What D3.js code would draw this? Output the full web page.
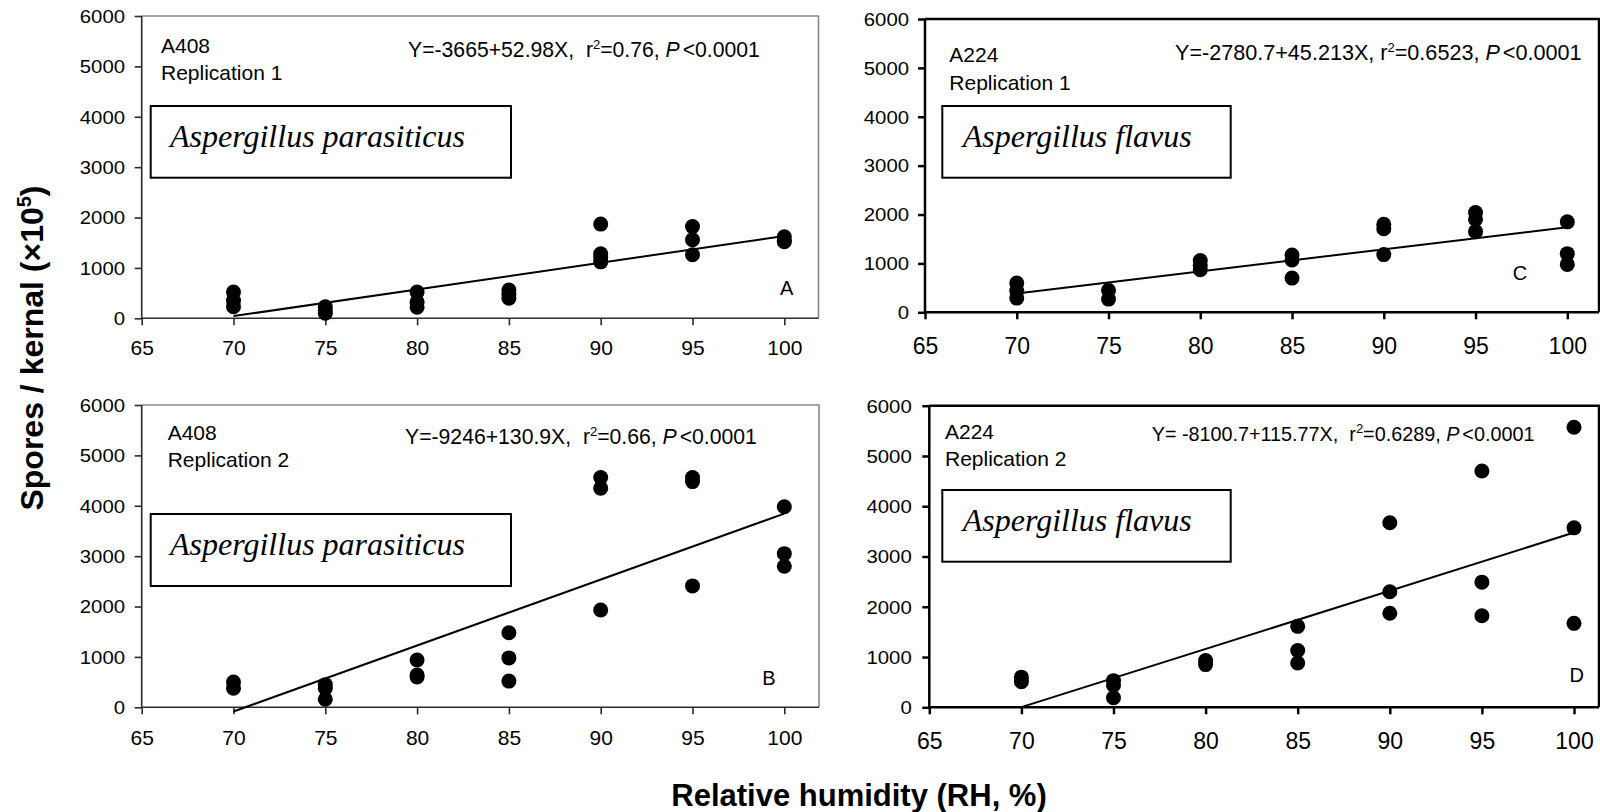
<!doctype html>
<html>
<head>
<meta charset="utf-8">
<title>spores per kernel vs relative humidity</title>
<style>
  body { margin: 0; background: #fff; }
  svg { display: block; font-family: "Liberation Sans", Arial, sans-serif; }
  .eq { white-space: pre; }
</style>
</head>
<body>
<svg id="chart" width="1600" height="812"></svg>
<script src="https://cdn.jsdelivr.net/npm/d3@7"></script>
<script>
  const humidity = [70, 75, 80, 85, 90, 95, 100];
  const xTicks = [65, 70, 75, 80, 85, 90, 95, 100];
  const yTicks = [0, 1000, 2000, 3000, 4000, 5000, 6000];

  // spores / kernel (x10^5), one inner list per RH level
  const sporesA = [[520, 350, 230], [230, 150, 100], [520, 320, 220], [560, 470, 400],
    [1870, 1280, 1200, 1120], [1820, 1560, 1260], [1620, 1550, 1520]];
  const sporesB = [[500, 380], [450, 380, 160], [940, 640, 600], [1480, 980, 520],
    [4560, 4350, 1930], [4560, 4480, 2410], [3980, 3050, 2800]];
  const sporesC = [[600, 440, 290], [450, 270], [1060, 960, 870], [1170, 1070, 700],
    [1800, 1710, 1180], [2040, 1900, 1650], [1850, 1200, 980]];
  const sporesD = [[600, 510], [530, 440, 190], [930, 850], [1610, 1130, 880],
    [3670, 2300, 1870], [4700, 2490, 1820], [5570, 3570, 1670]];

  const intercepts = [-3665, -9246, -2780.7, -8100.7];
  const slopes = [52.98, 130.9, 45.213, 115.77];
  const fitRange = [70, 100];

  const eqHeads = ['Y=-3665+52.98X,  r', 'Y=-9246+130.9X,  r', 'Y=-2780.7+45.213X, r', 'Y= -8100.7+115.77X,  r'];
  const r2Texts = ['=0.76, ', '=0.66, ', '=0.6523, ', '=0.6289, '];
  const strains = ['A408', 'A408', 'A224', 'A224'];
  const reps = ['Replication 1', 'Replication 2', 'Replication 1', 'Replication 2'];
  const species = ['Aspergillus parasiticus', 'Aspergillus parasiticus', 'Aspergillus flavus', 'Aspergillus flavus'];
  const letters = ['A', 'B', 'C', 'D'];

  // layout of the four panels
  const panels = [
    { data: sporesA, x0: 141.7, x1: 784.3, right: 818.5, top: 16, bottom: 318.3, heavy: false,
      yGap: 16.7, xLab: 36.7, xFont: 21, eq: [408, 57], eqFont: 21.2, strain: [161, 53, 80],
      box: [150.7, 106, 360.3, 71.7], sp: [170, 146.7], letter: [786.7, 295] },
    { data: sporesB, x0: 141.7, x1: 784.3, right: 819, top: 405, bottom: 707.3, heavy: false,
      yGap: 16.7, xLab: 37.5, xFont: 21, eq: [405, 443.5], eqFont: 21.2, strain: [167.7, 440, 467],
      box: [150.7, 514, 360.3, 72], sp: [170, 554.5], letter: [769, 685] },
    { data: sporesC, x0: 925, x1: 1567.3, right: 1599, top: 19, bottom: 312.3, heavy: true,
      yGap: 16, xLab: 41.7, xFont: 23, eq: [1175, 60], eqFont: 21.6, strain: [949.3, 62, 90],
      box: [942.3, 106, 288.4, 71.7], sp: [962.7, 146.7], letter: [1520, 280] },
    { data: sporesD, x0: 929.3, x1: 1574, right: 1599, top: 405.7, bottom: 707.3, heavy: true,
      yGap: 17.6, xLab: 41.7, xFont: 23, eq: [1151.7, 441], eqFont: 19.8, strain: [945, 439, 466],
      box: [942.3, 490, 288.4, 71.7], sp: [962.7, 530.7], letter: [1576.7, 682] }
  ];

  const svg = d3.select('#chart');

  panels.forEach((p, i) => {
    const x = d3.scaleLinear().domain([65, 100]).range([p.x0, p.x1]);
    const y = d3.scaleLinear().domain([0, 6000]).range([p.bottom, p.top]);
    const g = svg.append('g');
    const axisColor = p.heavy ? '#000' : '#2b2b2b';
    const frameColor = p.heavy ? '#000' : '#8a8a8a';
    const sw = p.heavy ? 2.5 : 1.6;

    // top + right border
    g.append('path')
      .attr('d', `M${p.x0},${p.top}H${p.right}V${p.bottom}`)
      .attr('fill', 'none').attr('stroke', frameColor).attr('stroke-width', sw);

    const yAxis = g.append('g').attr('transform', `translate(${p.x0},0)`)
      .call(d3.axisLeft(y).tickValues(yTicks).tickFormat(d3.format('d')).tickSize(7).tickSizeOuter(0));
    const xAxis = g.append('g').attr('transform', `translate(0,${p.bottom})`)
      .call(d3.axisBottom(x).tickValues(xTicks).tickFormat(d3.format('d')).tickSize(7).tickSizeOuter(0));

    [yAxis, xAxis].forEach(a => {
      a.attr('font-family', null).attr('font-size', null);
      a.select('.domain').remove();
      a.selectAll('.tick line').attr('stroke', axisColor).attr('stroke-width', sw);
      a.selectAll('.tick text').attr('fill', '#000');
    });
    yAxis.selectAll('.tick text')
      .attr('x', null).attr('dy', '0.35em').attr('font-size', 18)
      .attr('transform', `translate(${-p.yGap},0) scale(1.13,1)`);
    xAxis.selectAll('.tick text')
      .attr('y', p.xLab).attr('dy', null).attr('font-size', p.xFont);

    // left + bottom axis lines
    g.append('path')
      .attr('d', `M${p.x0},${p.top}V${p.bottom}H${p.right}`)
      .attr('fill', 'none').attr('stroke', axisColor).attr('stroke-width', sw);

    // regression line
    g.append('line')
      .attr('x1', x(fitRange[0])).attr('y1', y(intercepts[i] + slopes[i] * fitRange[0]))
      .attr('x2', x(fitRange[1])).attr('y2', y(intercepts[i] + slopes[i] * fitRange[1]))
      .attr('stroke', '#000').attr('stroke-width', 2);

    const pts = p.data.flatMap((vals, k) => vals.map(v => ({ rh: humidity[k], v })));
    g.selectAll('circle.pt').data(pts).join('circle')
      .attr('class', 'pt')
      .attr('cx', d => x(d.rh)).attr('cy', d => y(d.v)).attr('r', 7.5)
      .attr('fill', '#000');

    // strain / replication
    g.append('text').attr('x', p.strain[0]).attr('y', p.strain[1]).attr('font-size', 21).text(strains[i]);
    g.append('text').attr('x', p.strain[0]).attr('y', p.strain[2]).attr('font-size', 21).text(reps[i]);

    // equation
    const eq = g.append('text').attr('class', 'eq')
      .attr('x', p.eq[0]).attr('y', p.eq[1]).attr('font-size', p.eqFont);
    eq.append('tspan').text(eqHeads[i]);
    eq.append('tspan').attr('dy', -8).attr('font-size', 13).text('2');
    eq.append('tspan').attr('dy', 8).text(r2Texts[i]);
    eq.append('tspan').attr('font-style', 'italic').text('P');
    eq.append('tspan').attr('dx', 3).text('<0.0001');

    // species box
    g.append('rect')
      .attr('x', p.box[0]).attr('y', p.box[1]).attr('width', p.box[2]).attr('height', p.box[3])
      .attr('fill', '#fff').attr('stroke', '#000').attr('stroke-width', 2);
    g.append('text')
      .attr('x', p.sp[0]).attr('y', p.sp[1])
      .attr('font-family', '"Liberation Serif", "Times New Roman", serif')
      .attr('font-style', 'italic').attr('font-size', 32)
      .text(species[i]);

    g.append('text')
      .attr('x', p.letter[0]).attr('y', p.letter[1])
      .attr('text-anchor', 'middle').attr('font-size', 20)
      .text(letters[i]);
  });

  // axis titles
  const yTitle = svg.append('text')
    .attr('transform', 'translate(43,348) rotate(-90)')
    .attr('text-anchor', 'middle').attr('font-weight', 'bold').attr('font-size', 32);
  yTitle.append('tspan').text('Spores / kernal (×10');
  yTitle.append('tspan').attr('dy', -12).attr('font-size', 20).text('5');
  yTitle.append('tspan').attr('dy', 12).text(')');

  svg.append('text')
    .attr('x', 859).attr('y', 806)
    .attr('text-anchor', 'middle').attr('font-weight', 'bold').attr('font-size', 31)
    .text('Relative humidity (RH, %)');
</script>
</body>
</html>
